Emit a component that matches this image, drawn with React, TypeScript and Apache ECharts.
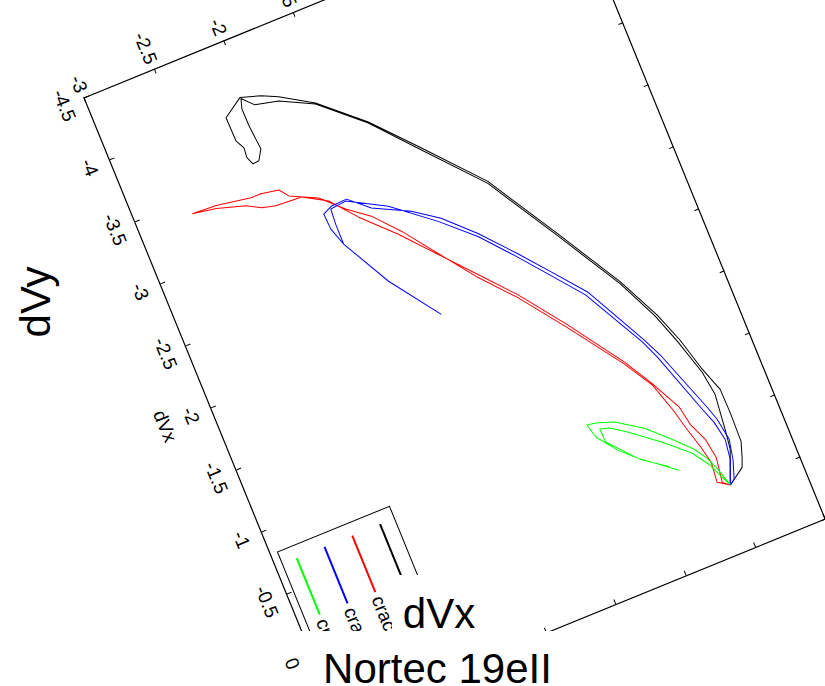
import React, { useEffect, useRef } from "react";
import * as echarts from "echarts";

const FONT = "'Liberation Sans', Arial, Helvetica, sans-serif";

// axis ranges / ticks
const xRange = { min: -4.5, max: 0.5, step: 0.5 };
const yRange = { min: -3, max: 0.5, step: 0.5 };

const seriesNames = ["crack 3", "crack 2", "crack 1", "crack 0.5"];
const seriesColors = ["#000000", "#ff0000", "#0000ff", "#00ff00"];

// [dVx, dVy]
const blackTrace: [number, number][] = [
  [0, 0], [-0.088, 0.116], [-0.157, 0.141], [-0.271, 0.175], [-0.502, 0.18], [-0.689, 0.177],
  [-0.879, 0.117], [-1.141, 0.054], [-1.379, -0.024], [-1.713, -0.167], [-2.223, -0.432],
  [-2.781, -0.73], [-3.221, -1.071], [-3.528, -1.316], [-3.809, -1.593], [-3.955, -1.804],
  [-4.013, -1.911], [-4.059, -2.044], [-3.959, -2.18], [-3.772, -2.177], [-3.701, -2.145],
  [-3.624, -2.152], [-3.565, -2.13], [-3.569, -2.086], [-3.646, -2.044], [-3.839, -2.059],
  [-3.977, -2.06], [-4.05, -2.04], [-3.967, -1.971], [-3.927, -1.814], [-3.802, -1.595],
  [-3.521, -1.318], [-3.207, -1.076], [-2.767, -0.735], [-2.209, -0.437], [-1.699, -0.172],
  [-1.378, -0.039], [-1.143, 0.034], [-0.858, 0.109], [-0.669, 0.133], [-0.399, 0.107],
  [-0.246, 0.088], [-0.018, 0.005], [0, 0],
];

const redTrace: [number, number][] = [
  [0, 0], [-0.04, -0.044], [-0.23, -0.018], [-0.386, -0.04], [-0.532, -0.095], [-0.681, -0.119],
  [-0.936, -0.234], [-1.147, -0.343], [-1.565, -0.599], [-1.914, -0.83], [-2.165, -1.024],
  [-2.668, -1.413], [-2.898, -1.614], [-3.094, -1.758], [-3.198, -1.913], [-3.21, -2.095],
  [-3.236, -2.185], [-3.295, -2.278], [-3.359, -2.468], [-3.391, -2.628], [-3.38, -2.461],
  [-3.336, -2.227], [-3.335, -2.156], [-3.311, -2.036], [-3.242, -1.99], [-3.143, -1.812],
  [-2.991, -1.674], [-2.869, -1.533], [-2.681, -1.387], [-2.144, -1.031], [-1.893, -0.837],
  [-1.544, -0.606], [-1.133, -0.348], [-0.909, -0.229], [-0.677, -0.164], [-0.525, -0.132],
  [-0.352, -0.089], [-0.21, -0.061], [-0.055, -0.075], [0, 0],
];

const blueTrace: [number, number][] = [
  [-1.993, -1.35], [-2.371, -1.591], [-2.755, -1.774], [-2.894, -1.815], [-3.018, -1.821],
  [-3.052, -1.752], [-3.057, -1.643], [-2.925, -1.513], [-2.79, -1.276], [-2.658, -1.11],
  [-2.449, -0.921], [-2.197, -0.727], [-1.98, -0.57], [-1.736, -0.394], [-1.243, -0.166],
  [-1.095, -0.105], [-0.602, 0.052], [-0.491, 0.083], [-0.318, 0.107], [-0.161, 0.078],
  [-0.028, 0.037], [0, 0], [-0.177, 0.063], [-0.329, 0.082], [-0.478, 0.057], [-0.602, 0.017],
  [-1.089, -0.128], [-1.236, -0.183], [-1.722, -0.414], [-1.961, -0.584], [-2.18, -0.741],
  [-2.428, -0.929], [-2.645, -1.136], [-2.89, -1.404], [-3.046, -1.654], [-3.033, -1.765],
  [-2.915, -1.773], [-2.755, -1.774],
];

const greenTrace: [number, number][] = [
  [-0.245, -0.277], [-0.447, -0.504], [-0.648, -0.659], [-0.755, -0.663], [-0.733, -0.6],
  [-0.655, -0.5], [-0.487, -0.311], [-0.326, -0.155], [-0.201, -0.079], [-0.104, -0.043],
  [0, 0], [-0.06, -0.016], [-0.152, -0.04], [-0.249, -0.076], [-0.348, -0.132], [-0.494, -0.258],
  [-0.634, -0.386], [-0.761, -0.554], [-0.807, -0.672], [-0.819, -0.732], [-0.71, -0.707],
  [-0.558, -0.606], [-0.419, -0.478], [-0.3, -0.33],
];

const traces = [blackTrace, redTrace, blueTrace, greenTrace];

const titleText = "Nortec 19eII";
const xName = "dVx";
const yName = "dVy";

function axisCommon(r: { min: number; max: number; step: number }) {
  return {
    type: "value" as const,
    min: r.min,
    max: r.max,
    interval: r.step,
    splitLine: { show: false },
    axisLine: { show: true, onZero: false, lineStyle: { color: "#000", width: 1.2 } },
    axisTick: { show: true, inside: true, length: 5, lineStyle: { color: "#000", width: 1 } },
  };
}

export default function App() {
  const plotRef = useRef<HTMLDivElement>(null);
  const overlayRef = useRef<HTMLDivElement>(null);

  useEffect(() => {
    const plot = echarts.init(plotRef.current!, undefined, { renderer: "svg" });
    plot.setOption({
      animation: false,
      backgroundColor: "transparent",
      grid: { left: 61, right: 94, top: 27, bottom: 132, containLabel: false },
      xAxis: [
        {
          ...axisCommon(xRange),
          position: "bottom",
          name: xName,
          nameLocation: "middle",
          nameGap: 40,
          nameTextStyle: { fontSize: 19, fontFamily: FONT, color: "#000" },
          axisLabel: { fontSize: 19, margin: 12, color: "#000", fontFamily: FONT },
        },
        { ...axisCommon(xRange), position: "top", axisLabel: { show: false } },
      ],
      yAxis: [
        {
          ...axisCommon(yRange),
          position: "left",
          axisLabel: { fontSize: 19, margin: 6, color: "#000", fontFamily: FONT },
        },
        { ...axisCommon(yRange), position: "right", axisLabel: { show: false } },
      ],
      legend: {
        orient: "vertical",
        left: 555,
        top: 426,
        padding: [6, 12, 6, 12],
        itemWidth: 61,
        itemHeight: 19,
        itemGap: 11,
        borderColor: "#000",
        borderWidth: 1,
        backgroundColor: "#fff",
        itemStyle: { opacity: 0 },
        textStyle: { fontSize: 19, fontFamily: FONT, color: "#000" },
        data: seriesNames,
      },
      series: traces.map((t, i) => ({
        name: seriesNames[i],
        type: "line",
        data: t,
        symbol: "none",
        showSymbol: false,
        smooth: false,
        lineStyle: { width: 1, color: seriesColors[i] },
        itemStyle: { color: seriesColors[i] },
      })),
    });

    const overlay = echarts.init(overlayRef.current!, undefined, { renderer: "svg" });
    overlay.setOption({
      animation: false,
      backgroundColor: "transparent",
      graphic: [
        { type: "rect", silent: true, shape: { x: 301, y: 631, width: 276, height: 60 }, style: { fill: "#fff" } },
        { type: "rect", silent: true, shape: { x: 392, y: 575, width: 95, height: 60 }, style: { fill: "#fff" } },
        {
          type: "text",
          x: 439,
          y: 613,
          style: { text: xName, fontSize: 42, fontFamily: FONT, fill: "#000", align: "center", verticalAlign: "middle" },
        },
        {
          type: "text",
          x: 437.5,
          y: 668,
          style: { text: titleText, fontSize: 42, fontFamily: FONT, fill: "#000", align: "center", verticalAlign: "middle" },
        },
        {
          type: "text",
          x: 35,
          y: 302,
          rotation: Math.PI / 2,
          style: { text: yName, fontSize: 42, fontFamily: FONT, fill: "#000", align: "center", verticalAlign: "middle" },
        },
      ],
    });

    return () => {
      plot.dispose();
      overlay.dispose();
    };
  }, []);

  return (
    <div style={{ position: "fixed", left: 0, top: 0, width: 825, height: 686, overflow: "hidden", background: "#fff" }}>
      <div
        ref={plotRef}
        style={{
          position: "absolute",
          left: 0,
          top: 0,
          width: 825,
          height: 686,
          transform: "rotate(67.8deg)",
          transformOrigin: "412.5px 343px",
        }}
      />
      <div
        ref={overlayRef}
        style={{ position: "absolute", left: 0, top: 0, width: 825, height: 686, pointerEvents: "none" }}
      />
    </div>
  );
}
